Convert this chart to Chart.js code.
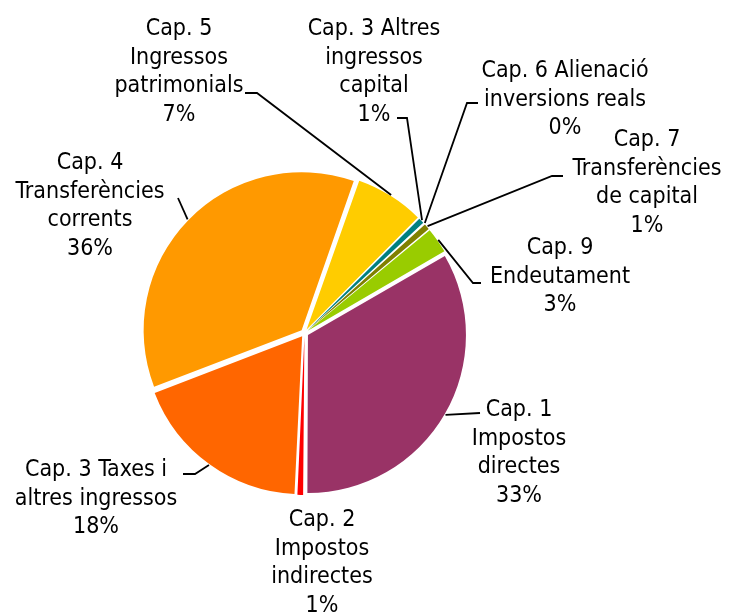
<!DOCTYPE html>
<html>
<head>
<meta charset="utf-8">
<script src="https://cdn.jsdelivr.net/npm/chart.js@4/dist/chart.umd.min.js"></script>
<style>
  html, body { margin: 0; padding: 0; background: #ffffff; }
  #wrap { width: 729px; height: 612px; position: relative; }
</style>
</head>
<body>
<div id="wrap"><canvas id="c" width="729" height="612"></canvas></div>
<script>
// ---- data ----
const categories = [
  ['Cap. 1', 'Impostos', 'directes'],
  ['Cap. 2', 'Impostos', 'indirectes'],
  ['Cap. 3 Taxes i', 'altres ingressos'],
  ['Cap. 4', 'Transferències', 'corrents'],
  ['Cap. 5', 'Ingressos', 'patrimonials'],
  ['Cap. 3 Altres', 'ingressos', 'capital'],
  ['Cap. 6 Alienació', 'inversions reals'],
  ['Cap. 7', 'Transferències', 'de capital'],
  ['Cap. 9', 'Endeutament']
];
const shares = [33.4, 0.7, 18.4, 36.2, 7.1, 0.7, 0.1, 0.7, 2.7];
const sliceColors = ['#993366', '#FF0000', '#FF6600', '#FF9900', '#FFCC00', '#008080', '#0066CC', '#808000', '#99CC00'];

// ---- label layout (text block centre x, first line centre y, leader path toward label) ----
const labelLayout = [
  { x: 519, y: 410, path: [[480, 413]] },
  { x: 322, y: 520, path: null },
  { x: 96,  y: 470, path: [[195, 474], [183, 474]] },
  { x: 90,  y: 163, path: [[178, 198]] },
  { x: 179, y: 29,  path: [[257, 93], [245, 93]] },
  { x: 374, y: 29,  path: [[407, 118], [397, 118]] },
  { x: 565, y: 71,  path: [[467, 103], [478, 103]] },
  { x: 647, y: 140, path: [[552, 176], [563, 176]] },
  { x: 560, y: 248, path: [[473, 283], [481, 283]] }
];
const FONT = '23px "DejaVu Sans Condensed", "DejaVu Sans", sans-serif';
const LINE_H = 28.7;
const EXPLODE = 4; // px displacement of each slice

const labelPlugin = {
  id: 'outsideLabels',
  beforeDatasetsDraw(chart) {
    // keep every exploded slice at the same outer radius
    const meta = chart.getDatasetMeta(0);
    meta.data.forEach(arc => {
      if (arc._baseR === undefined) arc._baseR = arc.outerRadius;
      const circ = arc.endAngle - arc.startAngle;
      const fix = 1 - Math.sin(Math.min(Math.PI, circ));
      arc.outerRadius = arc._baseR - EXPLODE * fix;
    });
  },
  afterDatasetsDraw(chart) {
    const ctx = chart.ctx;
    const meta = chart.getDatasetMeta(0);
    const total = shares.reduce((a, b) => a + b, 0);
    ctx.save();
    ctx.strokeStyle = '#000000';
    ctx.lineWidth = 1.8;
    meta.data.forEach((arc, i) => {
      const lay = labelLayout[i];
      if (!lay.path) return;
      const mid = (arc.startAngle + arc.endAngle) / 2;
      const r = (arc._baseR || arc.outerRadius) + EXPLODE + 1;
      const sx = arc.x + Math.cos(mid) * r;
      const sy = arc.y + Math.sin(mid) * r;
      ctx.beginPath();
      ctx.moveTo(sx, sy);
      lay.path.forEach(p => ctx.lineTo(p[0], p[1]));
      ctx.stroke();
    });
    ctx.fillStyle = '#000000';
    ctx.font = FONT;
    ctx.textAlign = 'center';
    ctx.textBaseline = 'middle';
    categories.forEach((lines, i) => {
      const lay = labelLayout[i];
      const pct = Math.round(shares[i] / total * 100) + '%';
      lines.concat([pct]).forEach((t, k) => ctx.fillText(t, lay.x, lay.y + k * LINE_H));
    });
    ctx.restore();
  }
};

new Chart(document.getElementById('c'), {
  type: 'pie',
  data: {
    labels: categories.map(l => l.join(' ')),
    datasets: [{
      data: shares,
      backgroundColor: sliceColors,
      borderWidth: 0,
      offset: EXPLODE * 4
    }]
  },
  options: {
    responsive: false,
    animation: false,
    events: [],
    rotation: 60,
    radius: 158,
    layout: { padding: { left: 0, right: 120, top: 54, bottom: 0 } },
    plugins: { legend: { display: false }, tooltip: { enabled: false } }
  },
  plugins: [labelPlugin]
});
</script>
</body>
</html>
